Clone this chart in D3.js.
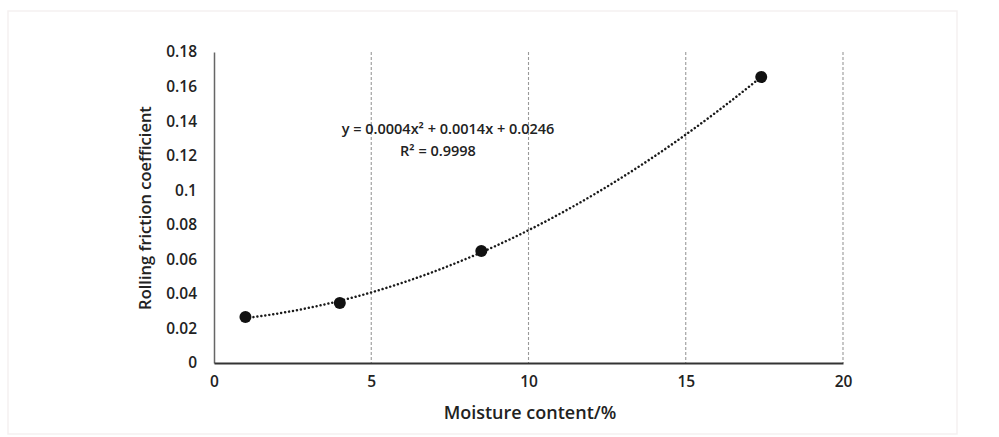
<!DOCTYPE html>
<html>
<head>
<meta charset="utf-8">
<script src="https://cdn.jsdelivr.net/npm/d3@7"></script>
<style>
html,body{margin:0;padding:0;background:#fff;}
svg{display:block;}
text{font-family:"Open Sans","Liberation Sans",sans-serif;fill:#222;}
</style>
</head>
<body>
<svg id="chart" width="999" height="437"></svg>
<script>
// Data
const moisture = [1, 4, 8.5, 17.4];
const friction = [0.0266, 0.0347, 0.0648, 0.1655];
const xTicks = [0, 5, 10, 15, 20];
const yTicks = [0, 0.02, 0.04, 0.06, 0.08, 0.1, 0.12, 0.14, 0.16, 0.18];
const xTitle = "Moisture content/%";
const yTitle = "Rolling friction coefficient";
const equationLines = ["y = 0.0004x² + 0.0014x + 0.0246", "R² = 0.9998"];

const svg = d3.select("#chart");
const W = 999, H = 437;

// faint outer frame
svg.append("rect").attr("x", 8).attr("y", 11).attr("width", W - 50).attr("height", H - 14)
  .attr("fill", "none").attr("stroke", "#f5f1f1").attr("stroke-width", 1.5);

const pLeft = 214, pRight = 843, pTop = 52, pBottom = 363;
const x = d3.scaleLinear().domain([0, 20]).range([pLeft, pRight]);
const y = d3.scaleLinear().domain([0, 0.18]).range([pBottom, pTop]);

// vertical gridlines
svg.append("g").selectAll("line").data(xTicks.filter(d => d > 0)).join("line")
  .attr("x1", d => x(d)).attr("x2", d => x(d)).attr("y1", pTop).attr("y2", pBottom)
  .attr("stroke", "#999").attr("stroke-width", 1.1).attr("stroke-dasharray", "3,2");

// y axis
const yAxis = svg.append("g").attr("transform", `translate(${pLeft},0)`)
  .call(d3.axisLeft(y).tickValues(yTicks).tickSize(0).tickPadding(17)
    .tickFormat(d => d === 0 ? "0" : String(+d.toFixed(2))));
yAxis.select(".domain").attr("stroke", "#666").attr("stroke-width", 1.5);
yAxis.selectAll("text").style("font-size", "15.5px").style("font-weight", "600")
  .style("font-family", "'Open Sans',sans-serif").attr("fill", "#222");

// x axis
const xAxis = svg.append("g").attr("transform", `translate(0,${pBottom})`)
  .call(d3.axisBottom(x).tickValues(xTicks).tickSize(0).tickPadding(13));
xAxis.select(".domain").attr("stroke", "#333").attr("stroke-width", 2);
xAxis.selectAll("text").style("font-size", "15.5px").style("font-weight", "600")
  .style("font-family", "'Open Sans',sans-serif").attr("fill", "#222");

// axis titles
svg.append("text").attr("x", 530).attr("y", 419).attr("text-anchor", "middle")
  .style("font-size", "18px").style("font-weight", "600").text(xTitle);
svg.append("text").attr("transform", `translate(151,208) rotate(-90)`)
  .attr("text-anchor", "middle").style("font-size", "16.5px").style("font-weight", "600").text(yTitle);

// quadratic least-squares fit (trendline) computed from the data points
function quadFit(xs, ys) {
  let S = [0,0,0,0,0], T = [0,0,0];
  xs.forEach((xi, i) => {
    for (let k = 0; k < 5; k++) S[k] += Math.pow(xi, k);
    for (let k = 0; k < 3; k++) T[k] += ys[i] * Math.pow(xi, k);
  });
  const A = [[S[0],S[1],S[2],T[0]],[S[1],S[2],S[3],T[1]],[S[2],S[3],S[4],T[2]]];
  for (let c = 0; c < 3; c++) {
    for (let r = c + 1; r < 3; r++) {
      const f = A[r][c] / A[c][c];
      for (let k = c; k < 4; k++) A[r][k] -= f * A[c][k];
    }
  }
  const sol = [0,0,0];
  for (let r = 2; r >= 0; r--) {
    let s = A[r][3];
    for (let k = r + 1; k < 3; k++) s -= A[r][k] * sol[k];
    sol[r] = s / A[r][r];
  }
  return sol;
}
const coef = quadFit(moisture, friction);
const x0 = d3.min(moisture), x1 = d3.max(moisture);
const curvePts = d3.range(0, 101).map(i => {
  const xv = x0 + (x1 - x0) * i / 100;
  return [xv, coef[0] + coef[1] * xv + coef[2] * xv * xv];
});
svg.append("path").datum(curvePts)
  .attr("d", d3.line().x(d => x(d[0])).y(d => y(d[1])))
  .attr("fill", "none").attr("stroke", "#1a1a1a").attr("stroke-width", 2.5)
  .attr("stroke-dasharray", "0.01,4").attr("stroke-linecap", "round");

// markers
svg.append("g").selectAll("circle").data(moisture.map((m, i) => [m, friction[i]])).join("circle")
  .attr("cx", d => x(d[0])).attr("cy", d => y(d[1])).attr("r", 6)
  .attr("fill", "#111");

// equation label
const eqX = [448, 438];
const eq = svg.append("text").attr("y", 134).attr("text-anchor", "middle")
  .style("font-size", "14.5px").style("font-weight", "600");
eq.selectAll("tspan").data(equationLines).join("tspan")
  .attr("x", (d, i) => eqX[i]).attr("dy", (d, i) => i === 0 ? 0 : 22).text(d => d);
</script>
</body>
</html>
